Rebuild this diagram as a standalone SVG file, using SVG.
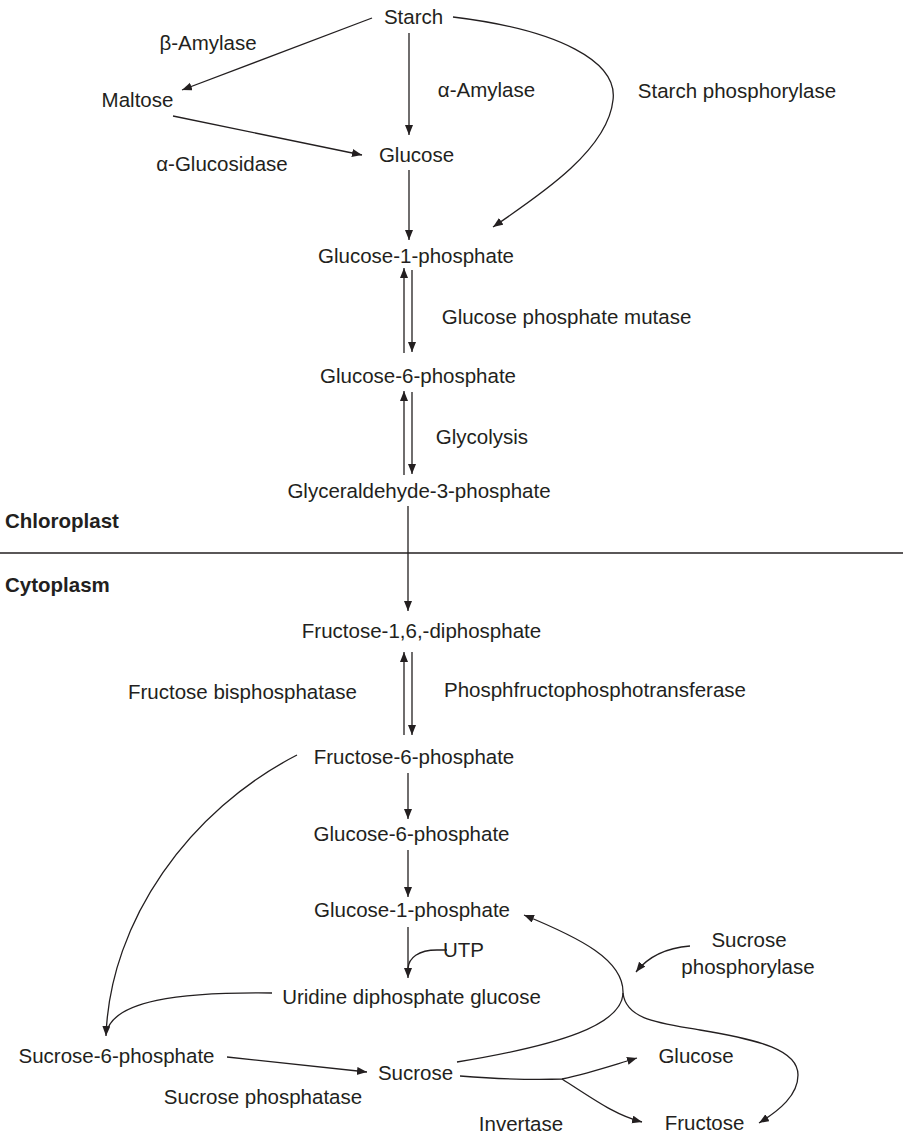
<svg xmlns="http://www.w3.org/2000/svg" width="903" height="1135" viewBox="0 0 903 1135">
<style>
text{font-family:"Liberation Sans",Arial,sans-serif;font-size:20.5px;fill:#231f20;text-anchor:middle}
.l{text-anchor:start}
.b{font-weight:bold;text-anchor:start}
.c path,.c line{fill:none;stroke:#231f20;stroke-width:1.3}
</style>
<defs>
<marker id="ah" markerUnits="userSpaceOnUse" markerWidth="12" markerHeight="10" refX="10" refY="4" orient="auto">
<path d="M0,0 L10,4 L0,8 Z" fill="#231f20"/>
</marker>
</defs>
<rect width="903" height="1135" fill="#fff"/>
<g id="chloroplast-label"><text class="b" x="5" y="528">Chloroplast</text></g>
<g id="cytoplasm-label"><text class="b" x="5" y="592">Cytoplasm</text></g>
<g id="n-starch"><text x="413.5" y="24">Starch</text></g>
<g id="n-bamylase"><text x="208" y="50">β-Amylase</text></g>
<g id="n-maltose"><text x="137.5" y="107">Maltose</text></g>
<g id="n-aamylase"><text x="486.5" y="97">α-Amylase</text></g>
<g id="n-starchphos"><text x="737" y="98">Starch phosphorylase</text></g>
<g id="n-aglucosidase"><text x="222" y="171">α-Glucosidase</text></g>
<g id="n-glucose1"><text x="416.5" y="162">Glucose</text></g>
<g id="n-g1p1"><text x="416" y="263">Glucose-1-phosphate</text></g>
<g id="n-gpm"><text x="566.5" y="324">Glucose phosphate mutase</text></g>
<g id="n-g6p1"><text x="418" y="383">Glucose-6-phosphate</text></g>
<g id="n-glycolysis"><text x="482" y="444">Glycolysis</text></g>
<g id="n-ga3p"><text x="419" y="498">Glyceraldehyde-3-phosphate</text></g>
<g id="n-f16dp"><text x="421.5" y="638">Fructose-1,6,-diphosphate</text></g>
<g id="n-fbp"><text x="242.5" y="699">Fructose bisphosphatase</text></g>
<g id="n-pfpt"><text x="595" y="697">Phosphfructophosphotransferase</text></g>
<g id="n-f6p"><text x="414" y="764">Fructose-6-phosphate</text></g>
<g id="n-g6p2"><text x="411.5" y="841">Glucose-6-phosphate</text></g>
<g id="n-g1p2"><text x="412" y="917">Glucose-1-phosphate</text></g>
<g id="n-utp"><text class="l" x="443" y="957">UTP</text></g>
<g id="n-sucphos"><text x="749" y="947">Sucrose</text><text x="748" y="974">phosphorylase</text></g>
<g id="n-udpg"><text x="411.5" y="1004">Uridine diphosphate glucose</text></g>
<g id="n-s6p"><text x="116.5" y="1063">Sucrose-6-phosphate</text></g>
<g id="n-sucrose"><text x="415.5" y="1080">Sucrose</text></g>
<g id="n-glucose2"><text x="696" y="1063">Glucose</text></g>
<g id="n-sucphosphatase"><text x="263" y="1104">Sucrose phosphatase</text></g>
<g id="n-invertase"><text x="521" y="1131">Invertase</text></g>
<g id="n-fructose"><text x="704.5" y="1130">Fructose</text></g>
<g id="connectors" class="c">
<line x1="0" y1="553" x2="903" y2="553"/>
<line x1="372" y1="18" x2="182" y2="90" marker-end="url(#ah)"/>
<line x1="409" y1="33" x2="409" y2="135" marker-end="url(#ah)"/>
<line x1="173" y1="116" x2="362" y2="155" marker-end="url(#ah)"/>
<line x1="409" y1="170" x2="409" y2="240" marker-end="url(#ah)"/>
<path d="M453,17 C560,30 618,62 613,100 C608,150 540,195 493,227" marker-end="url(#ah)"/>
<line x1="404" y1="353" x2="404" y2="268" marker-end="url(#ah)"/>
<line x1="412" y1="270" x2="412" y2="352" marker-end="url(#ah)"/>
<line x1="404" y1="475" x2="404" y2="391" marker-end="url(#ah)"/>
<line x1="412" y1="392" x2="412" y2="474" marker-end="url(#ah)"/>
<line x1="408" y1="506" x2="408" y2="611" marker-end="url(#ah)"/>
<line x1="404" y1="735" x2="404" y2="652" marker-end="url(#ah)"/>
<line x1="412" y1="652" x2="412" y2="735" marker-end="url(#ah)"/>
<line x1="408" y1="773" x2="408" y2="819" marker-end="url(#ah)"/>
<line x1="408" y1="850" x2="408" y2="897" marker-end="url(#ah)"/>
<line x1="408" y1="927" x2="408" y2="978" marker-end="url(#ah)"/>
<path d="M447,950 L437,950 C418,950 409,958 408,968"/>
<path d="M297,755 C190,810 110,920 106,1036" marker-end="url(#ah)"/>
<path d="M272,993 C180,992 112,1000 106,1034"/>
<line x1="227" y1="1057" x2="367" y2="1072" marker-end="url(#ah)"/>
<path d="M457,1062 C560,1045 622,1025 623,993 C624,960 580,938 524,915" marker-end="url(#ah)"/>
<path d="M623,993 C626,1020 660,1023 700,1030 C760,1040 798,1050 798,1075 C798,1095 780,1110 759,1123" marker-end="url(#ah)"/>
<path d="M460,1076 C500,1079 540,1080 562,1079 C590,1073 610,1066 637,1058" marker-end="url(#ah)"/>
<path d="M562,1079 C595,1100 615,1115 642,1122" marker-end="url(#ah)"/>
<path d="M690,946 C665,948 647,958 636,972" marker-end="url(#ah)"/>
</g>
</svg>
